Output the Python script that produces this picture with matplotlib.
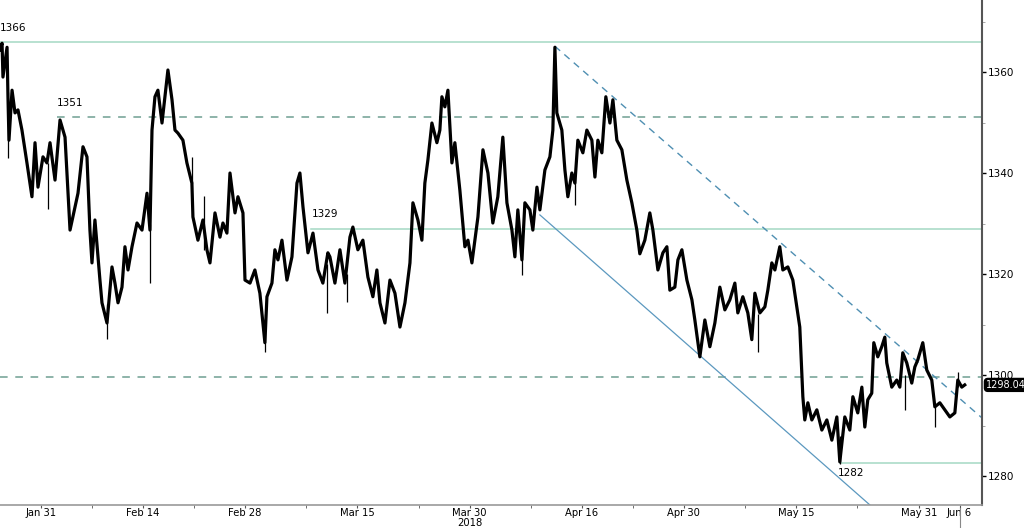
import numpy as np
import matplotlib
matplotlib.use("Agg")
import matplotlib.pyplot as plt
import matplotlib.transforms as mtransforms

# --- data: gold spot, trading-day index from Jan 25 2018 ---
day = [0.00, 0.20, 0.29, 0.69, 0.78, 0.88, 1.18, 1.47, 1.76, 2.15, 2.64, 3.13, 3.43, 3.72,
       4.21, 4.60, 4.90, 5.39, 5.88, 6.37, 6.66, 6.86, 7.35, 7.64, 8.13, 8.52, 8.81, 9.01,
       9.30, 9.79, 9.99, 10.48, 10.97, 11.26, 11.56, 11.95, 12.24, 12.54, 12.93, 13.42, 13.91,
       14.40, 14.69, 14.89, 15.18, 15.47, 15.87, 16.16, 16.45, 16.85, 17.14, 17.43, 17.92,
       18.31, 18.80, 18.90, 19.39, 19.88, 20.27, 20.57, 21.06, 21.55, 21.84, 22.23, 22.53,
       23.02, 23.31, 23.80, 24.00, 24.49, 24.97, 25.46, 25.95, 26.15, 26.64, 26.93, 27.23,
       27.62, 28.11, 28.60, 29.09, 29.38, 29.68, 30.17, 30.66, 31.15, 31.63, 32.12, 32.32,
       32.81, 33.30, 33.79, 34.28, 34.57, 35.06, 35.55, 36.04, 36.53, 36.92, 37.22, 37.71,
       38.20, 38.69, 39.18, 39.67, 40.16, 40.45, 40.94, 41.33, 41.62, 41.92, 42.31, 42.80,
       43.09, 43.29, 43.58, 43.88, 44.27, 44.56, 45.05, 45.54, 45.84, 46.23, 46.82, 47.31,
       47.80, 48.28, 48.77, 49.26, 49.66, 50.15, 50.44, 50.73, 51.13, 51.42, 51.91, 52.20,
       52.60, 52.89, 53.38, 53.87, 54.16, 54.36, 54.55, 55.04, 55.34, 55.63, 56.02, 56.32,
       56.61, 57.10, 57.49, 57.98, 58.28, 58.57, 58.96, 59.35, 59.75, 60.04, 60.43, 60.92,
       61.41, 61.90, 62.39, 62.68, 63.17, 63.66, 63.96, 64.45, 64.94, 65.33, 65.62, 66.11,
       66.41, 66.80, 67.29, 67.78, 68.07, 68.56, 69.05, 69.54, 70.03, 70.52, 71.01, 71.50,
       71.99, 72.28, 72.77, 73.26, 73.65, 73.95, 74.44, 74.93, 75.22, 75.61, 75.91, 76.39,
       76.69, 77.18, 77.67, 78.06, 78.35, 78.65, 78.84, 79.14, 79.53, 80.02, 80.51, 81.00,
       81.49, 81.98, 82.27, 82.76, 83.25, 83.55, 84.03, 84.43, 84.72, 85.01, 85.40, 85.60,
       85.99, 86.38, 86.68, 86.87, 87.36, 87.85, 88.15, 88.44, 88.83, 89.32, 89.62, 89.91,
       90.40, 90.79, 91.28, 91.58, 92.07, 92.56, 93.05, 93.54, 93.83, 94.22, 94.51]
price = [1364.4, 1365.7, 1359.0, 1364.9, 1355.1, 1346.5, 1356.4, 1351.9, 1352.5, 1348.5, 1342.0,
         1335.3, 1346.0, 1337.2, 1343.2, 1342.0, 1346.0, 1338.6, 1350.5, 1347.1, 1336.0, 1328.7,
         1333.3, 1336.0, 1345.2, 1343.2, 1328.7, 1322.2, 1330.7, 1318.8, 1314.3, 1310.3, 1321.4,
         1318.2, 1314.3, 1317.4, 1325.4, 1320.8, 1325.4, 1330.1, 1328.7, 1336.0, 1328.7, 1348.5,
         1355.1, 1356.4, 1349.9, 1355.1, 1360.4, 1354.5, 1348.5, 1347.9, 1346.5, 1342.0, 1338.0,
         1331.3, 1326.7, 1330.7, 1324.8, 1322.2, 1332.1, 1327.3, 1330.1, 1328.1, 1340.0, 1332.1,
         1335.3, 1332.1, 1318.8, 1318.2, 1320.8, 1316.2, 1306.4, 1315.5, 1318.2, 1324.8, 1322.8,
         1326.7, 1318.8, 1323.4, 1338.0, 1340.0, 1333.3, 1324.2, 1328.1, 1320.8, 1318.2, 1324.2,
         1323.4, 1318.2, 1324.8, 1318.2, 1327.3, 1329.3, 1324.8, 1326.7, 1319.4, 1315.5, 1320.8,
         1314.3, 1310.3, 1318.8, 1316.2, 1309.5, 1314.3, 1322.2, 1334.1, 1330.7, 1326.7, 1338.0,
         1342.6, 1349.9, 1346.0, 1348.5, 1355.1, 1353.1, 1356.4, 1342.0, 1346.0, 1336.6, 1325.4,
         1326.7, 1322.2, 1331.3, 1344.6, 1340.0, 1330.1, 1335.3, 1347.1, 1334.1, 1328.7, 1323.4,
         1332.7, 1322.8, 1334.1, 1332.7, 1328.7, 1337.2, 1332.7, 1340.6, 1343.2, 1348.5, 1364.9,
         1351.9, 1348.5, 1340.6, 1335.3, 1340.0, 1338.0, 1346.5, 1344.0, 1348.5, 1346.5, 1339.2,
         1346.5, 1344.0, 1355.1, 1349.9, 1354.5, 1346.5, 1344.6, 1338.6, 1334.1, 1328.7, 1324.0,
         1326.7, 1332.1, 1328.7, 1320.8, 1324.2, 1325.4, 1316.8, 1317.4, 1322.8, 1324.8, 1318.8,
         1314.9, 1310.9, 1303.6, 1310.9, 1305.6, 1310.3, 1317.4, 1312.9, 1314.9, 1318.2, 1312.3,
         1315.5, 1312.3, 1307.0, 1316.2, 1312.3, 1313.5, 1316.8, 1322.2, 1320.8, 1325.4, 1320.8,
         1321.4, 1318.8, 1313.5, 1309.5, 1295.7, 1291.1, 1294.5, 1291.1, 1293.1, 1289.1, 1291.1,
         1287.1, 1291.7, 1282.8, 1291.7, 1289.1, 1295.7, 1292.5, 1297.6, 1289.7, 1295.1, 1296.4,
         1306.4, 1303.6, 1305.6, 1307.5, 1302.4, 1297.6, 1299.0, 1297.6, 1304.4, 1302.4, 1298.4,
         1301.6, 1303.0, 1306.4, 1301.0, 1299.0, 1293.7, 1294.5, 1293.1, 1291.7, 1292.5, 1299.0,
         1297.6, 1298.04]

# intraday spikes (low, high)
wick_day = [0.78, 4.70, 10.48, 14.69, 18.80, 20.00, 25.95, 32.00, 33.98, 51.13, 56.32, 74.24,
            82.27, 88.64, 91.58, 93.83]
wick_lo = [1343.0, 1332.9, 1307.1, 1318.2, 1338.0, 1324.8, 1304.6, 1312.3, 1314.5, 1319.8,
           1333.7, 1304.6, 1282.4, 1293.1, 1289.7, 1297.6]
wick_hi = [1356.0, 1342.0, 1314.0, 1330.0, 1343.2, 1335.4, 1312.0, 1322.0, 1320.0, 1325.0,
           1340.0, 1312.0, 1288.0, 1300.0, 1294.0, 1300.6]

last_price = 1298.04

# support / resistance levels
levels = [1366, 1351, 1329, 1299.6, 1282.5]
level_labels = ["1366", "1351", "1329", None, "1282"]
level_start = [0.0, 5.6, 30.5, 0.0, 82.3]
level_dashed = [False, True, False, True, False]
label_below = [False, False, False, False, True]

# trend lines (day, price) endpoints
resist_day = [54.36, 96.2]
resist_px = [1365.1, 1291.5]
support_day = [52.89, 85.2]
support_px = [1331.7, 1274.3]

tick_pos = [4, 14, 24, 35, 46, 57, 67, 78, 90, 94]
tick_lab = ["Jan 31", "Feb 14", "Feb 28", "Mar 15", "Mar 30\n2018", "Apr 16", "Apr 30",
            "May 15", "May 31", "Jun 6"]
minor_pos = [9, 19, 30, 41, 52, 62, 73, 84]

# --- plot ---
fig = plt.figure(figsize=(10.24, 5.28), dpi=100)
ax = fig.add_axes([0.0, 23 / 528, 982 / 1024, 505 / 528])

solid_c = "#a4d8c4"
dash_c = "#6f9f92"
for val, lab, x0, dashed, below in zip(levels, level_labels, level_start, level_dashed,
                                       label_below):
    ax.plot([x0, 97], [val, val], color=dash_c if dashed else solid_c,
            lw=1.1, ls=(0, (5, 5)) if dashed else "-", zorder=1)
    if lab:
        if below:
            ax.text(x0 - 0.2, val - 0.9, lab, fontsize=7.5, ha="left", va="top")
        else:
            ax.text(x0, val + 1.8, lab, fontsize=7.5, ha="left", va="bottom")

ax.plot(resist_day, resist_px, color="#4f8fb2", lw=1.0, ls=(0, (5, 4)), zorder=1)
ax.plot(support_day, support_px, color="#5b98bf", lw=0.9, zorder=1)

ax.vlines(wick_day, wick_lo, wick_hi, color="black", lw=0.9, zorder=3)
ax.plot(day, price, color="black", lw=2.3, zorder=3)

ax.set_xlim(0, 96.2)
ax.set_ylim(1274.26, 1374.26)

ax.yaxis.tick_right()
ax.set_yticks([1280, 1300, 1320, 1340, 1360])
ax.set_yticks([1290, 1310, 1330, 1350, 1370], minor=True)
ax.tick_params(axis="y", which="major", direction="out", length=3, width=1, pad=1,
               labelsize=7.5, colors="black")
ax.tick_params(axis="y", which="minor", direction="out", length=2, width=0.6, color="#999999")

ax.set_xticks(tick_pos)
ax.set_xticklabels(tick_lab, fontsize=7.2, linespacing=0.95)
ax.set_xticks(minor_pos, minor=True)
ax.tick_params(axis="x", which="major", direction="out", length=2, pad=0.5, color="#555555")
ax.tick_params(axis="x", which="minor", direction="out", length=2, color="#555555")

for s in ["top", "left"]:
    ax.spines[s].set_visible(False)
ax.spines["right"].set_color("#555555")
ax.spines["right"].set_linewidth(1.5)
ax.spines["bottom"].set_color("#999999")
ax.spines["bottom"].set_linewidth(1.2)

# current price tag
trans = mtransforms.blended_transform_factory(ax.transAxes, ax.transData)
ax.text(1.004, last_price, f"{last_price:.2f}", transform=trans, fontsize=7,
        color="white", va="center", ha="left",
        bbox=dict(boxstyle="round,pad=0.15,rounding_size=0.35", fc="black", ec="black"))

# last-date marker under the axis
ax.axvline(tick_pos[-1], ymin=-0.045, ymax=-0.005, color="#888888", lw=0.8, clip_on=False)

fig.savefig("out.png", dpi=100)
